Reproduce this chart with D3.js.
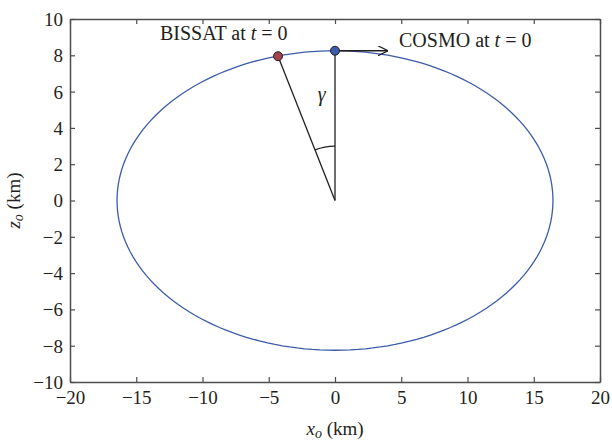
<!DOCTYPE html>
<html>
<head>
<meta charset="utf-8">
<script src="https://cdn.jsdelivr.net/npm/d3@7"></script>
<style>
  html, body { margin: 0; padding: 0; background: #fff; }
</style>
</head>
<body>
<svg id="chart" width="612" height="443" font-family="Liberation Serif"></svg>
<script>
// Chart data
const xTicks = [-20, -15, -10, -5, 0, 5, 10, 15, 20];
const zTicks = [-10, -8, -6, -4, -2, 0, 2, 4, 6, 8, 10];
const orbitSemiAxes = [16.45, 8.25];      // relative orbit ellipse (km): x, z
const cosmoPos = [0, 8.25];                // COSMO at t = 0
const bissatPos = [-4.3, 7.95];            // BISSAT at t = 0
const velocityTip = [4.0, 8.25];           // COSMO velocity arrow tip
const gammaArcRadius = 3.0;                // z-units along the vertical line
const gammaLabelPos = [-1.0, 5.5];

const FONT = 'Liberation Serif';
const INK = '#231f20';
const margin = { left: 70, right: 12, top: 19, bottom: 61 };
const width = 612, height = 443;

const svg = d3.select('#chart');

const x = d3.scaleLinear().domain([-20, 20]).range([margin.left, width - margin.right]);
const y = d3.scaleLinear().domain([-10, 10]).range([height - margin.bottom, margin.top]);

svg.append('defs').append('marker')
    .attr('id', 'arrow')
    .attr('viewBox', '0 0 10 10')
    .attr('refX', 10).attr('refY', 5)
    .attr('markerWidth', 10).attr('markerHeight', 10)
    .attr('markerUnits', 'userSpaceOnUse')
    .attr('orient', 'auto')
    .append('path')
    .attr('d', 'M0,0 L10,5 L0,10')
    .attr('fill', 'none')
    .attr('stroke', INK)
    .attr('stroke-width', 1.2);

// Orbit ellipse
const thetas = d3.range(0, 361, 2).map(d => d * Math.PI / 180);
const orbit = thetas.map(t => [orbitSemiAxes[0] * Math.cos(t), orbitSemiAxes[1] * Math.sin(t)]);
svg.append('path')
    .datum(orbit)
    .attr('d', d3.line().x(d => x(d[0])).y(d => y(d[1])))
    .attr('fill', 'none')
    .attr('stroke', '#3c5ba9')
    .attr('stroke-width', 1.3);

// Lines from origin
const lines = [[[0, 0], cosmoPos], [[0, 0], bissatPos]];
svg.selectAll('.ray')
    .data(lines)
    .enter()
    .append('line')
    .attr('class', 'ray')
    .attr('x1', d => x(d[0][0])).attr('y1', d => y(d[0][1]))
    .attr('x2', d => x(d[1][0])).attr('y2', d => y(d[1][1]))
    .attr('stroke', INK)
    .attr('stroke-width', 1.3);

// Gamma angle arc (pixel-space circle)
const ox = x(0), oy = y(0);
const r = oy - y(gammaArcRadius);
const angB = Math.atan2(x(bissatPos[0]) - ox, oy - y(bissatPos[1]));
svg.append('path')
    .attr('d', d3.arc()({ innerRadius: r, outerRadius: r, startAngle: angB, endAngle: 0 }))
    .attr('transform', `translate(${ox},${oy})`)
    .attr('fill', 'none')
    .attr('stroke', INK)
    .attr('stroke-width', 1.2);

svg.append('text')
    .attr('x', x(gammaLabelPos[0])).attr('y', y(gammaLabelPos[1]))
    .attr('text-anchor', 'middle')
    .attr('fill', INK)
    .style('font-family', FONT)
    .style('font-style', 'italic')
    .style('font-size', '20px')
    .text('γ');

// Velocity arrow
svg.append('line')
    .attr('x1', x(cosmoPos[0])).attr('y1', y(cosmoPos[1]))
    .attr('x2', x(velocityTip[0])).attr('y2', y(velocityTip[1]))
    .attr('stroke', INK)
    .attr('stroke-width', 1.3)
    .attr('marker-end', 'url(#arrow)');

// Satellites
const sats = [
    { pos: bissatPos, color: '#a3414f' },
    { pos: cosmoPos, color: '#3c5ba9' }
];
svg.selectAll('.sat')
    .data(sats)
    .enter()
    .append('circle')
    .attr('class', 'sat')
    .attr('cx', d => x(d.pos[0])).attr('cy', d => y(d.pos[1]))
    .attr('r', 4.5)
    .attr('fill', d => d.color)
    .attr('stroke', INK)
    .attr('stroke-width', 1);

// Labels
function satLabel(name, px, py) {
    const t = svg.append('text').attr('x', px).attr('y', py)
        .attr('fill', INK)
        .style('font-family', FONT)
        .style('font-size', '20px');
    t.append('tspan').text(name + ' at ');
    t.append('tspan').style('font-style', 'italic').text('t');
    t.append('tspan').text(' = 0');
}
satLabel('BISSAT', 160, 40);
satLabel('COSMO', 399, 47);

// Axes (ticks inward, box on all sides)
const fmt = d => d < 0 ? '\u2212' + Math.abs(d) : String(d);
const tickLen = 5;

const axB = svg.append('g').attr('class', 'axis')
    .attr('transform', `translate(0,${y(-10)})`)
    .call(d3.axisBottom(x).tickValues(xTicks).tickSize(-tickLen).tickSizeOuter(0).tickFormat(fmt));
axB.selectAll('text').attr('y', 22).attr('dy', null);

svg.append('g').attr('class', 'axis')
    .attr('transform', `translate(0,${y(10)})`)
    .call(d3.axisTop(x).tickValues(xTicks).tickSize(-tickLen).tickSizeOuter(0).tickFormat(''));

const axL = svg.append('g').attr('class', 'axis')
    .attr('transform', `translate(${x(-20)},0)`)
    .call(d3.axisLeft(y).tickValues(zTicks).tickSize(-tickLen).tickSizeOuter(0).tickFormat(fmt));
axL.selectAll('text').attr('x', -7).attr('dy', '0.34em');

svg.append('g').attr('class', 'axis')
    .attr('transform', `translate(${x(20)},0)`)
    .call(d3.axisRight(y).tickValues(zTicks).tickSize(-tickLen).tickSizeOuter(0).tickFormat(''));

svg.selectAll('.axis').attr('font-family', FONT).attr('font-size', 19);
svg.selectAll('.axis path').attr('stroke', '#4d4d4d').attr('stroke-width', 1.5);
svg.selectAll('.axis line').attr('stroke', '#4d4d4d').attr('stroke-width', 1.2);
svg.selectAll('.axis text').attr('fill', INK).style('font-family', FONT).style('font-size', '19px');

// Axis titles
const xt = svg.append('text')
    .attr('x', x(0)).attr('y', 435)
    .attr('text-anchor', 'middle')
    .attr('fill', INK)
    .style('font-family', FONT)
    .style('font-size', '19px');
xt.append('tspan').style('font-style', 'italic').text('x');
xt.append('tspan').style('font-style', 'italic').style('font-size', '14px').attr('dy', 3).text('o');
xt.append('tspan').attr('dy', -3).text(' (km)');

const yt = svg.append('text')
    .attr('transform', `translate(20,${y(0)}) rotate(-90)`)
    .attr('text-anchor', 'middle')
    .attr('fill', INK)
    .style('font-family', FONT)
    .style('font-size', '19px');
yt.append('tspan').style('font-style', 'italic').text('z');
yt.append('tspan').style('font-style', 'italic').style('font-size', '14px').attr('dy', 3).text('o');
yt.append('tspan').attr('dy', -3).text(' (km)');
</script>
</body>
</html>
